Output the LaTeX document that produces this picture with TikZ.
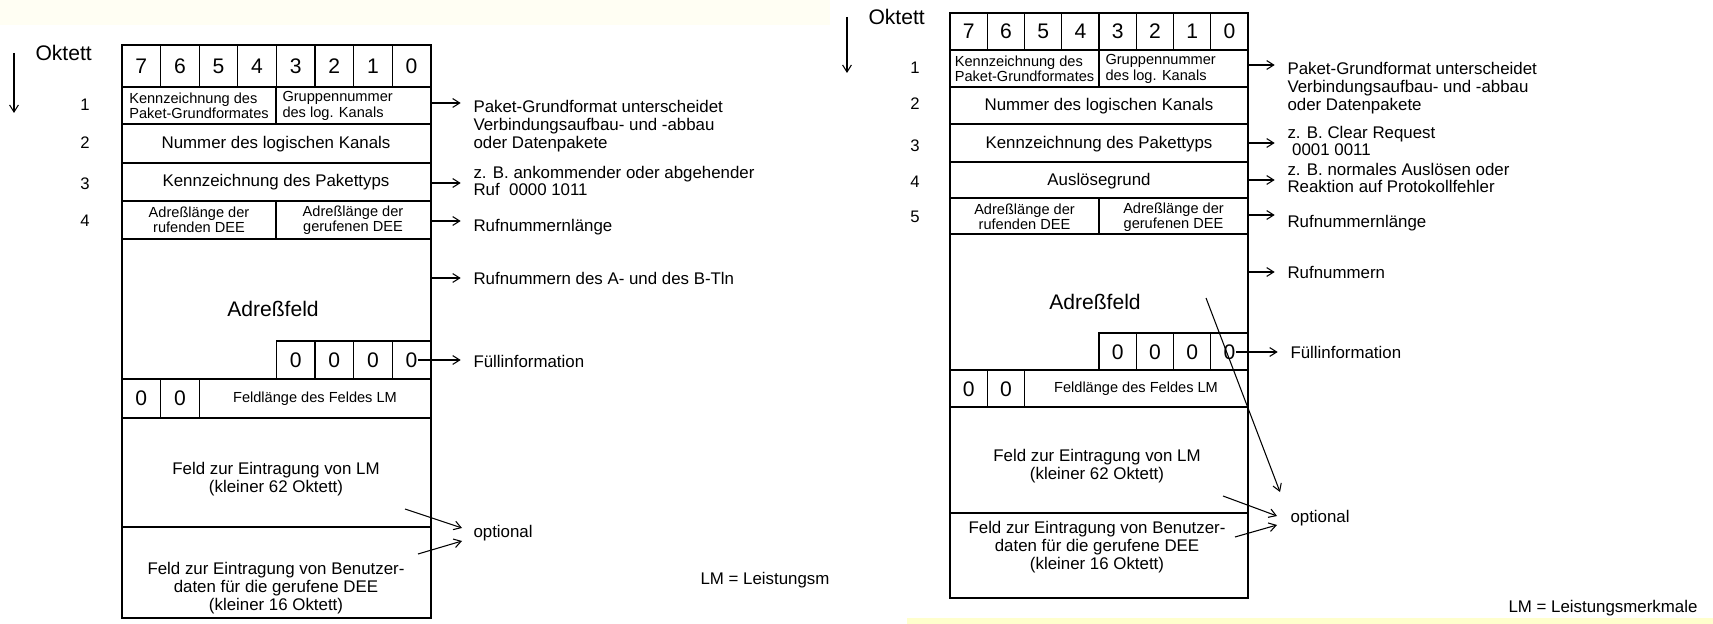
\documentclass[tikz,border=0pt]{standalone}
\usepackage{fontspec}
\setmainfont{Liberation Sans}
\usetikzlibrary{arrows.meta}
\definecolor{papercream}{RGB}{255,254,243}
\definecolor{paperyellow}{RGB}{255,255,205}

\begin{document}
\begin{tikzpicture}[x=0.02cm,y=-0.02cm,line width=0.6pt,
  >={Straight Barb[length=4pt,width=5pt]},
  frame/.style={line width=1.1pt},
  txt/.style={font=\fontsize{9.6}{10.2}\selectfont,inner sep=0pt},
  note/.style={txt,anchor=west,align=left},
  field/.style={txt,align=center},
  small/.style={font=\fontsize{8.3}{8.7}\selectfont,inner sep=0pt},
  bit/.style={font=\fontsize{12}{14}\selectfont,inner sep=0pt},
  rownum/.style={font=\fontsize{9.5}{10}\selectfont,inner sep=0pt},
  arr/.style={->,shorten >=7pt}]
  \useasboundingbox (0,0) rectangle (1713,624);
  \fill[papercream] (0,0) rectangle (830,25);
  \fill[paperyellow] (907,618) rectangle (1713,624);

  % left packet
  \node[bit,anchor=west] (lokt) at (35,53) {Oktett};
  \coordinate (ld0) at (14,53);
  \coordinate (ld1) at (14,113);
  \draw[->] (ld0) -- (ld1);
  \node[rownum] (ln1) at (85,105) {1};
  \node[rownum] (ln2) at (85,143) {2};
  \node[rownum] (ln3) at (85,184) {3};
  \node[rownum] (ln4) at (85,221) {4};

  \draw (122,45) rectangle (431,87);
  \foreach \i in {1,...,7}
    \draw (122+38.6*\i,45) -- (122+38.6*\i,87);
  \foreach \d [count=\i from 0] in {7,6,5,4,3,2,1,0}
    \node[bit] (lb\d) at (141.3+38.6*\i,66) {\d};

  \draw[frame] (122,87) rectangle (431,618);
  \draw (122,124) -- (431,124) (122,163) -- (431,163)
        (122,201) -- (431,201) (122,239) -- (431,239);
  \draw (276,87) -- (276,124) (276,201) -- (276,239);
  \draw (276.4,379) |- (431,341);
  \draw (315,341) -- (315,379) (353.6,341) -- (353.6,379) (392.2,341) -- (392.2,379);
  \draw (122,379) -- (431,379) (122,418) -- (431,418) (122,527) -- (431,527);
  \draw (160.6,379) -- (160.6,418) (199.2,379) -- (199.2,418);

  \node[small,align=left] (lkp) at (199,106) {Kennzeichnung des\\Paket-Grundformates};
  \node[small,align=left,anchor=west] (lgr) at (282,106) {Gruppennummer\\des log. Kanals};
  \node[txt] (lnr) at (276,144) {Nummer des logischen Kanals};
  \node[txt] (lpt) at (276,182) {Kennzeichnung des Pakettyps};
  \node[small,align=center] (lal) at (199,220) {Adreßlänge der\\rufenden DEE};
  \node[small,align=center] (lag) at (353,220) {Adreßlänge der\\gerufenen DEE};
  \node[bit] (lad) at (273,309) {Adreßfeld};
  \node[bit] (lf3) at (295.7,360) {0};
  \node[bit] (lf2) at (334.3,360) {0};
  \node[bit] (lf1) at (372.9,360) {0};
  \node[bit] (lf0) at (411.5,360) {0};
  \node[bit] (lz7) at (141.3,398.5) {0};
  \node[bit] (lz6) at (179.9,398.5) {0};
  \node[small] (lfl) at (315,398.5) {Feldlänge des Feldes LM};
  \node[field] (llm) at (276,479) {Feld zur Eintragung von LM\\(kleiner 62 Oktett)};
  \node[field] (lbd) at (276,588) {Feld zur Eintragung von Benutzer-\\daten für die gerufene DEE\\(kleiner 16 Oktett)};

  \node[note] (lp1) at (473,126) {Paket-Grundformat unterscheidet\\Verbindungsaufbau- und -abbau\\oder Datenpakete};
  \node[note] (lp2) at (473,181) {z. B. ankommender oder abgehender\\Ruf\ \ 0000 1011};
  \node[note] (lp3) at (473,227) {Rufnummernlänge};
  \node[note] (lp4) at (473,278) {Rufnummern des A- und des B-Tln};
  \node[note] (lp5) at (473,361) {Füllinformation};
  \node[note] (lop) at (473,533) {optional};
  \node[note] (lleg) at (700,580) {LM = Leistungsm};
  \coordinate (la1) at (431,103);
  \coordinate (la2) at (431,183);
  \coordinate (la3) at (431,221);
  \coordinate (la4) at (431,278);
  \coordinate (lo1) at (405,509);
  \coordinate (lo1e) at (462,528);
  \coordinate (lo2) at (418,554);
  \coordinate (lo2e) at (462,541);
  \draw[arr] (la1) -- (la1 -| lp1.west);
  \draw[arr] (la2) -- (la2 -| lp2.west);
  \draw[arr] (la3) -- (la3 -| lp3.west);
  \draw[arr] (la4) -- (la4 -| lp4.west);
  \draw[arr] (lf0.east) -- (lf0.east -| lp5.west);
  \draw[->] (lo1) -- (lo1e);
  \draw[->] (lo2) -- (lo2e);

  % right packet
  \node[bit,anchor=west] (rokt) at (868,17) {Oktett};
  \coordinate (rd0) at (847,17);
  \coordinate (rd1) at (847,73);
  \draw[->] (rd0) -- (rd1);
  \node[rownum] (rn1) at (915,68) {1};
  \node[rownum] (rn2) at (915,104) {2};
  \node[rownum] (rn3) at (915,146) {3};
  \node[rownum] (rn4) at (915,182) {4};
  \node[rownum] (rn5) at (915,217) {5};

  \draw (950,13) rectangle (1248,50);
  \foreach \i in {1,...,7}
    \draw (950+37.25*\i,13) -- (950+37.25*\i,50);
  \foreach \d [count=\i from 0] in {7,6,5,4,3,2,1,0}
    \node[bit] (rb\d) at (968.6+37.25*\i,31.5) {\d};

  \draw[frame] (950,50) rectangle (1248,598);
  \draw (950,87) -- (1248,87) (950,124) -- (1248,124) (950,162) -- (1248,162)
        (950,198) -- (1248,198) (950,234) -- (1248,234);
  \draw (1099,50) -- (1099,87) (1099,198) -- (1099,234);
  \draw (1099,370) |- (1248,333);
  \draw (1136.25,333) -- (1136.25,370) (1173.5,333) -- (1173.5,370) (1210.75,333) -- (1210.75,370);
  \draw (950,370) -- (1248,370) (950,407) -- (1248,407) (950,513) -- (1248,513);
  \draw (987.25,370) -- (987.25,407) (1024.5,370) -- (1024.5,407);

  \node[small,align=left] (rkp) at (1024.5,69) {Kennzeichnung des\\Paket-Grundformates};
  \node[small,align=left,anchor=west] (rgr) at (1105,69) {Gruppennummer\\des log. Kanals};
  \node[txt] (rnr) at (1099,106) {Nummer des logischen Kanals};
  \node[txt] (rpt) at (1099,144) {Kennzeichnung des Pakettyps};
  \node[txt] (rag) at (1099,181) {Auslösegrund};
  \node[small,align=center] (ral) at (1024.5,217) {Adreßlänge der\\rufenden DEE};
  \node[small,align=center] (rge) at (1173.5,217) {Adreßlänge der\\gerufenen DEE};
  \node[bit] (rad) at (1095,302) {Adreßfeld};
  \node[bit] (rf3) at (1117.6,352) {0};
  \node[bit] (rf2) at (1154.9,352) {0};
  \node[bit] (rf1) at (1192.1,352) {0};
  \node[bit] (rf0) at (1229.4,352) {0};
  \node[bit] (rz7) at (968.6,389) {0};
  \node[bit] (rz6) at (1005.9,389) {0};
  \node[small] (rfl) at (1136,389) {Feldlänge des Feldes LM};
  \node[field] (rlm) at (1097,466) {Feld zur Eintragung von LM\\(kleiner 62 Oktett)};
  \node[field] (rbd) at (1097,547) {Feld zur Eintragung von Benutzer-\\daten für die gerufene DEE\\(kleiner 16 Oktett)};

  \node[note] (rp1) at (1287,88) {Paket-Grundformat unterscheidet\\Verbindungsaufbau- und -abbau\\oder Datenpakete};
  \node[note] (rp2) at (1287,141) {z. B. Clear Request\\\ 0001 0011};
  \node[note] (rp3) at (1287,178) {z. B. normales Auslösen oder\\Reaktion auf Protokollfehler};
  \node[note] (rp4) at (1287,223) {Rufnummernlänge};
  \node[note] (rp5) at (1287,272) {Rufnummern};
  \node[note] (rp6) at (1290,352) {Füllinformation};
  \node[note] (rop) at (1290,518) {optional};
  \node[note] (rleg) at (1508,608) {LM = Leistungsmerkmale};
  \coordinate (ra1) at (1248,65);
  \coordinate (ra2) at (1248,143);
  \coordinate (ra3) at (1248,180);
  \coordinate (ra4) at (1248,215);
  \coordinate (ra5) at (1248,272);
  \coordinate (rx0) at (1206,298);
  \coordinate (rx1) at (1280,492);
  \coordinate (ro1) at (1223,496);
  \coordinate (ro1e) at (1277,516);
  \coordinate (ro2) at (1235,537);
  \coordinate (ro2e) at (1277,525);
  \draw[arr] (ra1) -- (ra1 -| rp1.west);
  \draw[arr] (ra2) -- (ra2 -| rp2.west);
  \draw[arr] (ra3) -- (ra3 -| rp3.west);
  \draw[arr] (ra4) -- (ra4 -| rp4.west);
  \draw[arr] (ra5) -- (ra5 -| rp5.west);
  \draw[arr] (rf0.east) -- (rf0.east -| rp6.west);
  \draw[->] (rx0) -- (rx1);
  \draw[->] (ro1) -- (ro1e);
  \draw[->] (ro2) -- (ro2e);
\end{tikzpicture}
\end{document}
